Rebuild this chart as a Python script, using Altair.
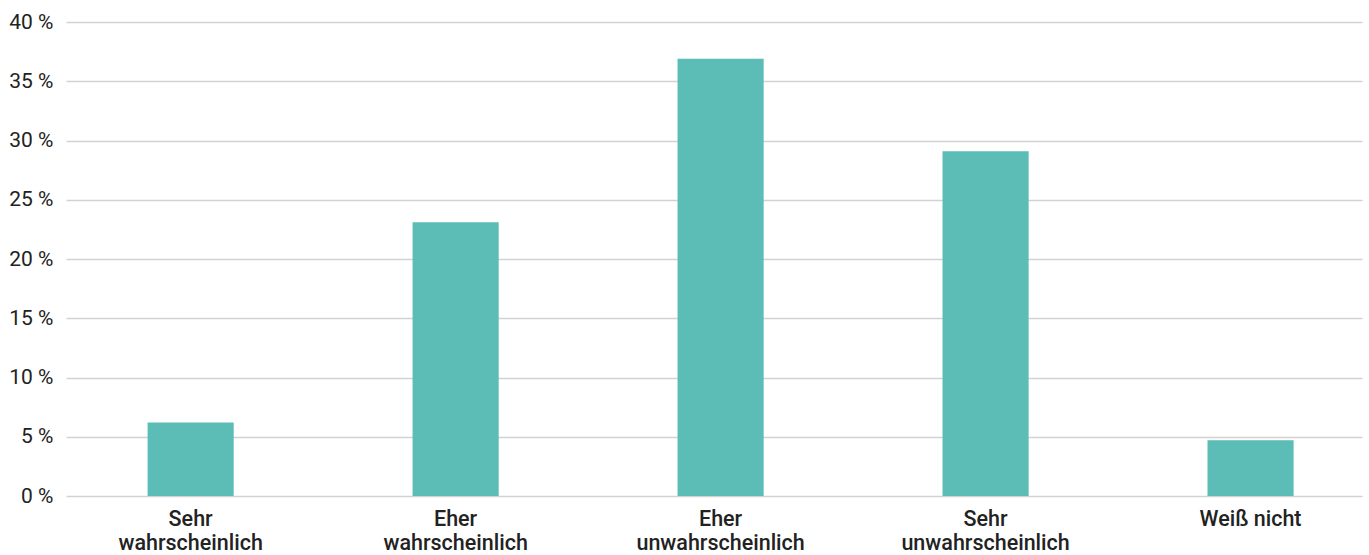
import altair as alt
import pandas as pd

# Survey answers and their shares in percent
categories = [
    "Sehr\nwahrscheinlich",
    "Eher\nwahrscheinlich",
    "Eher\nunwahrscheinlich",
    "Sehr\nunwahrscheinlich",
    "Weiß nicht",
]
shares = [6.2, 23.1, 36.9, 29.1, 4.7]
y_ticks = [0, 5, 10, 15, 20, 25, 30, 35, 40]

df = pd.DataFrame({"antwort": categories, "anteil": shares})

bars = alt.Chart(df).mark_bar(color="#5BBDB5").encode(
    x=alt.X(
        "antwort:N",
        sort=categories,
        scale=alt.Scale(paddingInner=0.675, paddingOuter=0.283, align=0.544),
        axis=alt.Axis(
            title=None,
            labelAngle=0,
            labelExpr="split(datum.label, '\\n')",
            labelFont="Roboto",
            labelFontSize=21.5,
            labelFontWeight=500,
            labelColor="#222222",
            labelLineHeight=24,
            labelPadding=12,
            labelBaseline="top",
            domain=False,
            ticks=False,
            grid=False,
        ),
    ),
    y=alt.Y(
        "anteil:Q",
        scale=alt.Scale(domain=[0, 40], nice=False),
        axis=alt.Axis(
            title=None,
            values=y_ticks,
            labelExpr="datum.value + ' %'",
            labelFont="Roboto",
            labelFontSize=21,
            labelColor="#222222",
            labelPadding=13,
            domain=False,
            ticks=False,
            grid=True,
            gridColor="#d2d2d2",
            gridWidth=1.6,
        ),
    ),
)

chart = bars.properties(
    width=1296,
    height=474,
    autosize=alt.AutoSizeParams(type="none"),
    padding={"left": 66, "top": 22, "right": 7, "bottom": 59},
).configure(background="white").configure_view(stroke=None, strokeWidth=0)

chart.save("out.html", embed_options={"renderer": "svg", "actions": False})
